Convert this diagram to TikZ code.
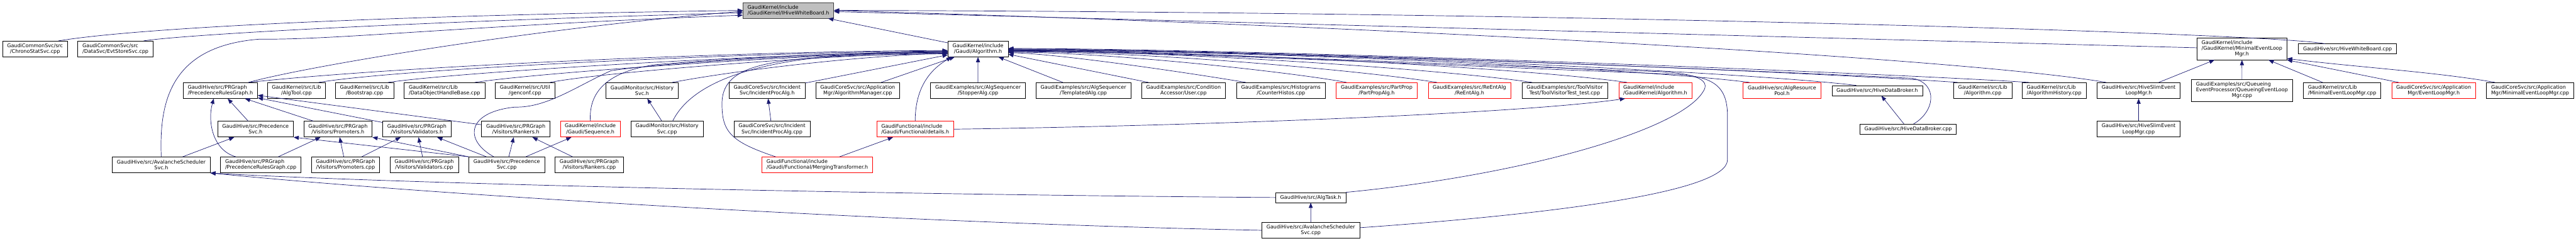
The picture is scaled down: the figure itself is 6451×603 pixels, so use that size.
\documentclass[tikz,border=0pt]{standalone}
\usepackage{fontspec}
\setmainfont{DejaVu Sans}
\usetikzlibrary{arrows.meta}
\definecolor{edgeblue}{RGB}{25,25,112}
\definecolor{rootfill}{RGB}{191,191,191}
\definecolor{rootline}{RGB}{64,64,64}

\begin{document}
\begin{tikzpicture}[
    x=1pt, y=1pt,
    font=\fontsize{12.7}{14.2}\selectfont,
    srcfile/.style={rectangle, draw=black, line width=1.1pt, inner xsep=11.5pt, inner ysep=0pt, minimum height=39.4pt, align=center},
    trunc/.style={srcfile, draw=red},
    focus/.style={srcfile, draw=rootline, fill=rootfill},
    oneline/.style={minimum height=25pt},
    threeline/.style={minimum height=54.2pt},
    dep/.style={draw=edgeblue, line width=1.1pt, -{Triangle[length=13pt,width=10pt]}}
]
    \useasboundingbox (0,0) rectangle (6451,-603);

    % Header in focus
    \node[focus, align=left] (whiteboard) at (1974.3,-26) {GaudiKernel/include\\/GaudiKernel/IHiveWhiteBoard.h};

    % First level
    \node[srcfile] (chrono) at (87.7,-122.5) {GaudiCommonSvc/src\\/ChronoStatSvc.cpp};
    \node[srcfile, align=left] (evtstore) at (289.1,-122.5) {GaudiCommonSvc/src\\/DataSvc/EvtStoreSvc.cpp};
    \node[srcfile] (algorithmh) at (2449.2,-122.5) {GaudiKernel/include\\/Gaudi/Algorithm.h};
    \node[srcfile, threeline] (minelmh) at (5614.3,-122.5) {\begin{tabular}{@{}l@{}}GaudiKernel/include\\/GaudiKernel/MinimalEventLoop\\\multicolumn{1}{@{}c@{}}{Mgr.h}\end{tabular}};
    \node[srcfile, oneline] (hivewbcpp) at (5878.7,-122.5) {GaudiHive/src/HiveWhiteBoard.cpp};

    % Second level
    \node[srcfile, align=left] (prgraphh) at (551.8,-226.5) {GaudiHive/src/PRGraph\\/PrecedenceRulesGraph.h};
    \node[srcfile] (algtoolcpp) at (742.5,-226.5) {GaudiKernel/src/Lib\\/AlgTool.cpp};
    \node[srcfile] (bootstrap) at (913,-226.5) {GaudiKernel/src/Lib\\/Bootstrap.cpp};
    \node[srcfile, align=left] (dataobjh) at (1113.2,-226.5) {GaudiKernel/src/Lib\\/DataObjectHandleBase.cpp};
    \node[srcfile] (genconf) at (1314.7,-226.5) {GaudiKernel/src/Util\\/genconf.cpp};
    \node[srcfile] (histsvch) at (1607.9,-226.5) {GaudiMonitor/src/History\\Svc.h};
    \node[srcfile] (incproch) at (1921,-226.5) {GaudiCoreSvc/src/Incident\\Svc/IncidentProcAlg.h};
    \node[srcfile] (algmgrcpp) at (2148,-226.5) {GaudiCoreSvc/src/Application\\Mgr/AlgorithmManager.cpp};
    \node[srcfile] (stopper) at (2449.1,-226.5) {GaudiExamples/src/AlgSequencer\\/StopperAlg.cpp};
    \node[srcfile] (templated) at (2713,-226.5) {GaudiExamples/src/AlgSequencer\\/TemplatedAlg.cpp};
    \node[srcfile] (condacc) at (2963.9,-226.5) {GaudiExamples/src/Condition\\Accessor/User.cpp};
    \node[srcfile] (counterhistos) at (3207.8,-226.5) {GaudiExamples/src/Histograms\\/CounterHistos.cpp};
    \node[trunc] (partprop) at (3447.6,-226.5) {GaudiExamples/src/PartProp\\/PartPropAlg.h};
    \node[trunc] (reentalg) at (3679.8,-226.5) {GaudiExamples/src/ReEntAlg\\/ReEntAlg.h};
    \node[srcfile] (toolvisitor) at (3918.4,-226.5) {GaudiExamples/src/ToolVisitor\\Test/ToolVisitorTest\_test.cpp};
    \node[trunc, align=left] (gkalgorithmh) at (4145.2,-226.5) {GaudiKernel/include\\/GaudiKernel/Algorithm.h};
    \node[trunc] (algrespool) at (4462.5,-226.5) {GaudiHive/src/AlgResource\\Pool.h};
    \node[srcfile, oneline] (hivedbh) at (4701,-226.7) {GaudiHive/src/HiveDataBroker.h};
    \node[srcfile] (algorithmcpp) at (4965.2,-226.5) {GaudiKernel/src/Lib\\/Algorithm.cpp};
    \node[srcfile, align=left] (alghistcpp) at (5144,-226.5) {GaudiKernel/src/Lib\\/AlgorithmHistory.cpp};
    \node[srcfile] (slimh) at (5355.7,-226.5) {GaudiHive/src/HiveSlimEvent\\LoopMgr.h};
    \node[srcfile, threeline] (queueing) at (5614.5,-226.5) {\begin{tabular}{@{}l@{}}GaudiExamples/src/Queueing\\EventProcessor/QueueingEventLoop\\\multicolumn{1}{@{}c@{}}{Mgr.cpp}\end{tabular}};
    \node[srcfile, align=left] (minelmcpp) at (5865.2,-226.5) {GaudiKernel/src/Lib\\/MinimalEventLoopMgr.cpp};
    \node[trunc] (eventloopmgrh) at (6094.5,-226.5) {GaudiCoreSvc/src/Application\\Mgr/EventLoopMgr.h};
    \node[srcfile, align=left] (appminelm) at (6336,-226.5) {GaudiCoreSvc/src/Application\\Mgr/MinimalEventLoopMgr.cpp};

    % Third level
    \node[srcfile] (precsvch) at (639.9,-323.3) {GaudiHive/src/Precedence\\Svc.h};
    \node[srcfile] (promh) at (846.3,-323.3) {GaudiHive/src/PRGraph\\/Visitors/Promoters.h};
    \node[srcfile] (validh) at (1043.9,-323.3) {GaudiHive/src/PRGraph\\/Visitors/Validators.h};
    \node[srcfile] (rankh) at (1291.6,-323.3) {GaudiHive/src/PRGraph\\/Visitors/Rankers.h};
    \node[trunc] (sequenceh) at (1478.4,-323.3) {GaudiKernel/include\\/Gaudi/Sequence.h};
    \node[srcfile] (histsvccpp) at (1670.4,-323.3) {GaudiMonitor/src/History\\Svc.cpp};
    \node[srcfile] (incproccpp) at (1933.2,-323.3) {GaudiCoreSvc/src/Incident\\Svc/IncidentProcAlg.cpp};
    \node[trunc, align=left] (detailsh) at (2291.8,-323.3) {GaudiFunctional/include\\/Gaudi/Functional/details.h};
    \node[srcfile, oneline] (hivedbcpp) at (4778.4,-323.3) {GaudiHive/src/HiveDataBroker.cpp};
    \node[srcfile] (slimcpp) at (5355.7,-323.3) {GaudiHive/src/HiveSlimEvent\\LoopMgr.cpp};

    % Fourth level and below
    \node[srcfile] (avalh) at (403.8,-412.7) {GaudiHive/src/AvalancheScheduler\\Svc.h};
    \node[srcfile, align=left] (prgraphcpp) at (653,-412.7) {GaudiHive/src/PRGraph\\/PrecedenceRulesGraph.cpp};
    \node[srcfile] (promcpp) at (865.2,-412.7) {GaudiHive/src/PRGraph\\/Visitors/Promoters.cpp};
    \node[srcfile] (validcpp) at (1062.3,-412.7) {GaudiHive/src/PRGraph\\/Visitors/Validators.cpp};
    \node[srcfile] (precsvccpp) at (1269.1,-412.7) {GaudiHive/src/Precedence\\Svc.cpp};
    \node[srcfile] (rankcpp) at (1475.7,-412.7) {GaudiHive/src/PRGraph\\/Visitors/Rankers.cpp};
    \node[trunc, align=left] (mergingh) at (2046.8,-412.7) {GaudiFunctional/include\\/Gaudi/Functional/MergingTransformer.h};
    \node[srcfile, oneline] (algtaskh) at (3282.4,-494.4) {GaudiHive/src/AlgTask.h};
    \node[srcfile] (avalcpp) at (3282.5,-576.4) {GaudiHive/src/AvalancheScheduler\\Svc.cpp};

    % Edges into the white board header
    \draw[dep] (chrono.19) .. controls (330,-72) and (900,-40) .. (whiteboard.west);
    \draw[dep] (evtstore.16) .. controls (450,-88) and (1000,-55) .. (whiteboard.183);
    \draw[dep] (avalh.north) .. controls (398,-250) and (430,-115) .. (650,-98) .. controls (850,-100) and (1150,-65) .. (whiteboard.186);
    \draw[dep] (prgraphh.16) .. controls (750,-170) and (1300,-75) .. (whiteboard.181);
    \draw[dep] (algorithmh) -- (whiteboard);
    \draw[dep] (minelmh) -- (whiteboard);
    \draw[dep] (hivewbcpp.167) .. controls (5700,-85) and (4000,-30) .. (whiteboard.east);
    \draw[dep] (slimh.166) .. controls (4950,-150) and (3600,-70) .. (whiteboard.east);

    % Edges into Gaudi/Algorithm.h from the left
    \draw[dep] (prgraphh.16) .. controls (1000,-165) and (1900,-127) .. (algorithmh.183);
    \draw[dep] (algtoolcpp.20) .. controls (1000,-172) and (1900,-130) .. (algorithmh.184);
    \draw[dep] (bootstrap.19) .. controls (1150,-180) and (1950,-133) .. (algorithmh.185);
    \draw[dep] (dataobjh.15) .. controls (1350,-182) and (2000,-136) .. (algorithmh.186);
    \draw[dep] (genconf.18) .. controls (1500,-182) and (2050,-138) .. (algorithmh.187);
    \draw[dep] (histsvch.15) .. controls (1850,-175) and (2150,-140) .. (algorithmh.188);
    \draw[dep] (incproch) -- (algorithmh);
    \draw[dep] (sequenceh.north) .. controls (1474,-230) and (1520,-180) .. (1640,-162) .. controls (1900,-140) and (2150,-132) .. (algorithmh.185);
    \draw[dep] (precsvccpp.148) .. controls (1160,-350) and (1170,-280) .. (1290,-268) .. controls (1370,-270) and (1445,-215) .. (1530,-177) .. controls (1700,-152) and (2100,-134) .. (algorithmh.186);
    \draw[dep] (histsvccpp.55) .. controls (1740,-190) and (1950,-125) .. (algorithmh.188);
    \draw[dep] (mergingh.169) .. controls (1830,-355) and (1808,-330) .. (1808,-260) .. controls (1808,-150) and (1950,-140) .. (algorithmh.189);
    \draw[dep] (detailsh.north) .. controls (2292,-230) and (2320,-180) .. (algorithmh.197);
    \draw[dep] (algmgrcpp) -- (algorithmh);
    \draw[dep] (stopper) -- (algorithmh);
    \draw[dep] (templated) -- (algorithmh);

    % Edges into Gaudi/Algorithm.h from the right
    \draw[dep] (condacc.167) -- (algorithmh.350);
    \draw[dep] (counterhistos.167) .. controls (2950,-178) and (2650,-135) .. (algorithmh.353);
    \draw[dep] (partprop.165) .. controls (3250,-183) and (2800,-132) .. (algorithmh.354);
    \draw[dep] (reentalg.166) .. controls (3420,-178) and (2900,-130) .. (algorithmh.355);
    \draw[dep] (toolvisitor.166) .. controls (3620,-174) and (2950,-128) .. (algorithmh.356);
    \draw[dep] (gkalgorithmh.164) .. controls (3820,-170) and (3000,-126) .. (algorithmh.357);
    \draw[dep] (algrespool.166) .. controls (4080,-168) and (3050,-125) .. (algorithmh.358);
    \draw[dep] (hivedbh.166) .. controls (4320,-175) and (3100,-124) .. (algorithmh.359);
    \draw[dep] (algorithmcpp.162) .. controls (4500,-178) and (3150,-124) .. (algorithmh.east);
    \draw[dep] (alghistcpp.162) .. controls (4700,-182) and (3200,-123) .. (algorithmh.1);
    \draw[dep] (hivedbcpp.44) .. controls (4845,-280) and (4855,-210) .. (4790,-196) .. controls (4300,-172) and (3150,-126) .. (algorithmh.358);
    \draw[dep] (algtaskh.north east) .. controls (3800,-440) and (4200,-330) .. (4264,-231) .. controls (4290,-195) and (4230,-183) .. (4150,-179) .. controls (3600,-160) and (2900,-128) .. (algorithmh.357);
    \draw[dep] (avalcpp.3) .. controls (3900,-535) and (4326,-480) .. (4326,-400) -- (4326,-290) .. controls (4326,-215) and (4290,-192) .. (4200,-186) .. controls (3600,-163) and (2900,-129) .. (algorithmh.356);

    % Edges into MinimalEventLoopMgr.h
    \draw[dep] (slimh) -- (minelmh);
    \draw[dep] (queueing) -- (minelmh);
    \draw[dep] (minelmcpp) -- (minelmh);
    \draw[dep] (eventloopmgrh.167) -- (minelmh.south east);
    \draw[dep] (appminelm.167) .. controls (6100,-180) and (5900,-168) .. (minelmh.348);

    % Precedence rules graph and visitors
    \draw[dep] (precsvch) -- (prgraphh);
    \draw[dep] (promh) -- (prgraphh);
    \draw[dep] (validh) -- (prgraphh);
    \draw[dep] (rankh) -- (prgraphh);
    \draw[dep] (prgraphcpp.162) .. controls (530,-375) and (520,-300) .. (prgraphh.231);
    \draw[dep] (prgraphcpp) -- (promh);
    \draw[dep] (promcpp) -- (promh);
    \draw[dep] (promcpp) -- (validh);
    \draw[dep] (validcpp) -- (validh);
    \draw[dep] (avalh) -- (precsvch);
    \draw[dep] (precsvccpp.north west) -- (precsvch.south east);
    \draw[dep] (precsvccpp.north west) -- (promh.south east);
    \draw[dep] (precsvccpp) -- (validh);
    \draw[dep] (precsvccpp) -- (rankh);
    \draw[dep] (precsvccpp) -- (sequenceh);
    \draw[dep] (rankcpp) -- (rankh);

    % Remaining edges
    \draw[dep] (histsvccpp) -- (histsvch);
    \draw[dep] (incproccpp) -- (incproch);
    \draw[dep] (mergingh) -- (detailsh);
    \draw[dep] (detailsh.east) .. controls (3000,-315) and (3800,-285) .. (gkalgorithmh.195);
    \draw[dep] (hivedbcpp) -- (hivedbh);
    \draw[dep] (slimcpp) -- (slimh);
    \draw[dep] (algtaskh.west) .. controls (2000,-485) and (900,-455) .. (avalh.south east);
    \draw[dep] (avalcpp.west) .. controls (2300,-560) and (1100,-490) .. (avalh.south east);
    \draw[dep] (avalcpp) -- (algtaskh);
\end{tikzpicture}
\end{document}
